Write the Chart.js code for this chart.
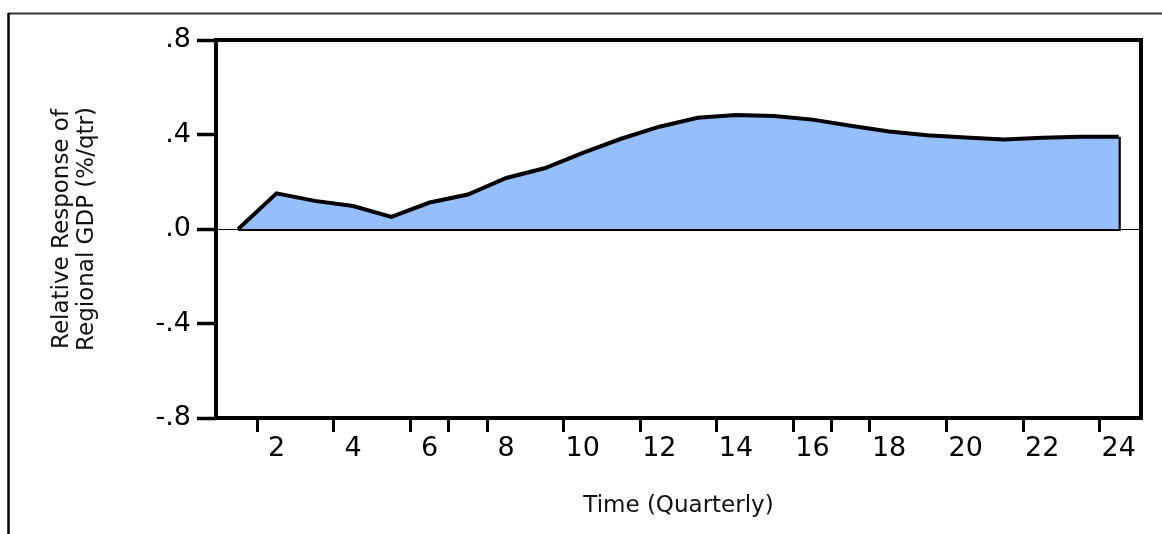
<!DOCTYPE html>
<html>
<head>
<meta charset="utf-8">
<script src="https://cdn.jsdelivr.net/npm/chart.js@4/dist/chart.umd.min.js"></script>
<style>
  html, body { margin: 0; padding: 0; background: #fff; }
  #wrap { width: 1162px; height: 534px; position: relative; }
</style>
</head>
<body>
<div id="wrap"><canvas id="grafico"></canvas></div>
<script>
// quarters after the shock and the response
const quarters = [1, 2, 3, 4, 5, 6, 7, 8, 9, 10, 11, 12, 13, 14, 15, 16, 17, 18, 19, 20, 21, 22, 23, 24];
const response = [0.000, 0.151, 0.119, 0.097, 0.051, 0.112, 0.146, 0.216, 0.257, 0.322, 0.382, 0.433,
                  0.471, 0.483, 0.478, 0.463, 0.437, 0.413, 0.397, 0.387, 0.379, 0.386, 0.391, 0.391];

const xLabelValues = [2, 4, 6, 8, 10, 12, 14, 16, 18, 20, 22, 24];
const xMarkValues = [1.5, 3.5, 5.5, 6.5, 7.5, 9.5, 11.5, 13.5, 15.5, 16.5, 17.5, 19.5, 21.5, 23.5];
const yTickValues = [0.8, 0.4, 0, -0.4, -0.8];
const yTickLabels = ['.8', '.4', '.0', '-.4', '-.8'];

const yTitle = ['Relative Response of', 'Regional GDP (%/qtr)'];
const xTitle = 'Time (Quarterly)';

const fonte = '"DejaVu Sans", Verdana, sans-serif';

const pontos = quarters.map((q, i) => ({ x: q, y: response[i] }));
const ultimo = quarters.length - 1;
// closing edge of the shaded area: down the last quarter and back along zero
const contorno = [
  { x: quarters[ultimo], y: response[ultimo] },
  { x: quarters[ultimo], y: 0 },
  { x: quarters[0], y: 0 }
];

const moldura = {
  id: 'moldura',
  beforeDraw(chart) {
    const ctx = chart.ctx;
    ctx.save();
    ctx.strokeStyle = '#333';
    ctx.lineWidth = 2;
    ctx.beginPath();
    ctx.moveTo(8, 13.5);
    ctx.lineTo(chart.width, 13.5);
    ctx.stroke();
    ctx.strokeStyle = '#000';
    ctx.lineWidth = 2.5;
    ctx.beginPath();
    ctx.moveTo(8.5, 13);
    ctx.lineTo(8.5, chart.height);
    ctx.stroke();
    ctx.restore();
  },
  afterDraw(chart) {
    const a = chart.chartArea;
    const ctx = chart.ctx;
    ctx.save();
    ctx.strokeStyle = '#000';
    ctx.lineWidth = 4;
    ctx.strokeRect(a.left, a.top, a.right - a.left, a.bottom - a.top);
    ctx.restore();
  }
};

new Chart(document.getElementById('grafico'), {
  type: 'line',
  data: {
    datasets: [{
      data: pontos,
      borderColor: '#000',
      borderWidth: 4,
      backgroundColor: 'rgb(148, 190, 252)',
      fill: 'origin',
      tension: 0,
      pointRadius: 0
    }, {
      data: contorno,
      borderColor: '#000',
      borderWidth: 4,
      fill: false,
      tension: 0,
      pointRadius: 0
    }]
  },
  options: {
    responsive: true,
    maintainAspectRatio: false,
    animation: false,
    layout: { padding: { left: 0, right: 21, top: 40, bottom: 0 } },
    plugins: { legend: { display: false }, tooltip: { enabled: false } },
    scales: {
      x: {
        type: 'linear',
        min: 0.42,
        max: 24.58,
        afterFit: s => { s.height = 116; },
        afterBuildTicks: s => {
          s.ticks = xMarkValues.concat(xLabelValues).sort((a, b) => a - b).map(v => ({ value: v }));
        },
        border: { display: false },
        grid: {
          drawOnChartArea: false,
          drawTicks: true,
          tickLength: 14,
          tickWidth: 3,
          tickColor: c => (c.tick && xMarkValues.includes(c.tick.value)) ? '#000' : 'rgba(0,0,0,0)'
        },
        ticks: {
          autoSkip: false,
          maxRotation: 0,
          padding: 1,
          color: '#000',
          font: { family: fonte, size: 27 },
          callback: v => xLabelValues.includes(v) ? String(v) : ''
        },
        title: {
          display: true,
          text: xTitle,
          color: '#111',
          font: { family: fonte, size: 23 },
          padding: { top: 0, bottom: 14 }
        }
      },
      y: {
        min: -0.8,
        max: 0.8,
        afterFit: s => { s.width = 216; },
        afterBuildTicks: s => {
          s.ticks = yTickValues.slice().sort((a, b) => a - b).map(v => ({ value: v }));
        },
        border: { display: false },
        grid: {
          drawOnChartArea: true,
          color: c => (c.tick && c.tick.value === 0) ? '#000' : 'rgba(0,0,0,0)',
          lineWidth: 1,
          drawTicks: true,
          tickLength: 19,
          tickWidth: 3.5,
          tickColor: '#000'
        },
        ticks: {
          padding: 6,
          color: '#000',
          font: { family: fonte, size: 27 },
          callback: v => {
            const i = yTickValues.findIndex(t => Math.abs(t - v) < 1e-9);
            return i >= 0 ? yTickLabels[i] : '';
          }
        },
        title: {
          display: true,
          text: yTitle,
          color: '#111',
          font: { family: fonte, size: 23, lineHeight: 1.1 },
          padding: { top: 49, bottom: 0 }
        }
      }
    }
  },
  plugins: [moldura]
});
</script>
</body>
</html>
